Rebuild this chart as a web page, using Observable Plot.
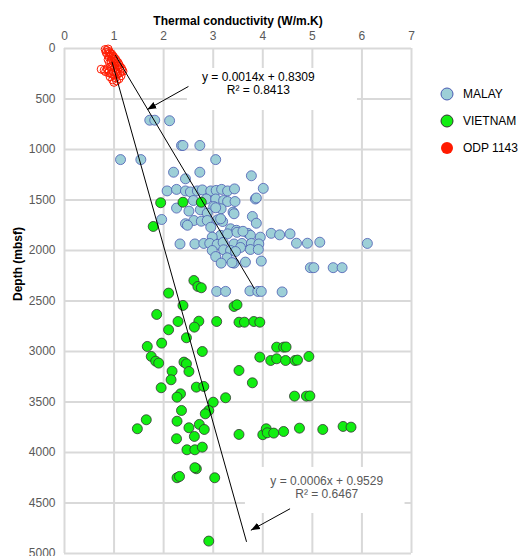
<!DOCTYPE html>
<html><head><meta charset="utf-8">
<script src="https://cdn.jsdelivr.net/npm/d3@7"></script>
<script src="https://cdn.jsdelivr.net/npm/@observablehq/plot@0.6"></script>
<style>body{margin:0;background:#fff}</style>
</head><body><div id="chart"></div>
<script>
const xTitle = "Thermal conductivity (W/m.K)";
const yTitle = "Depth (mbsf)";
const xTicks = [0, 1, 2, 3, 4, 5, 6, 7];
const yTicks = [0, 500, 1000, 1500, 2000, 2500, 3000, 3500, 4000, 4500, 5000];
const seriesNames = ["MALAY", "VIETNAM", "ODP 1143"];

// [thermal conductivity, depth]
const malay = [
  [1.72,710],[1.82,710],[2.12,715],
  [2.36,960],[2.39,960],[2.73,960],
  [1.13,1100],[1.54,1100],[3.05,1100],
  [2.20,1225],[2.73,1225],[2.44,1290],[3.77,1260],
  [2.07,1410],[2.26,1395],[2.44,1410],[2.54,1420],[2.68,1410],[2.78,1400],[2.95,1410],[3.06,1405],[3.17,1395],[3.29,1410],[3.43,1390],[4.01,1385],
  [2.60,1505],[2.86,1490],[3.05,1490],[3.21,1505],[3.29,1515],[3.44,1515],[3.85,1490],[3.87,1480],
  [2.26,1580],[2.51,1610],[2.74,1597],[3.01,1565],[3.16,1587],[3.40,1620],[3.42,1636],[3.05,1577],[2.88,1630],
  [1.96,1693],[2.44,1735],[2.61,1703],[2.76,1710],[2.88,1703],[3.09,1696],[3.19,1713],[3.79,1663],[3.87,1730],[3.15,1686],[2.48,1750],
  [2.95,1770],[3.35,1785],[3.47,1800],[3.15,1850],[3.29,1835],[3.70,1830],[3.75,1850],[4.17,1830],[4.34,1845],[4.55,1835],[2.98,1868],[3.48,1820],[3.95,1868],[3.60,1810],
  [2.33,1935],[2.63,1935],[2.81,1930],[2.93,1930],[3.08,1940],[3.42,1935],[3.58,1930],[3.77,1930],[3.92,1935],[4.68,1928],[4.90,1928],[5.15,1918],[6.11,1930],[3.20,1920],
  [2.98,2000],[3.21,1993],[3.35,2000],[3.55,1970],[3.75,1990],[3.91,1990],[3.45,2010],
  [3.05,2060],[3.28,2072],[3.16,2125],[3.42,2125],[3.65,2115],[3.97,2105],[3.38,2120],
  [4.96,2170],[5.03,2170],[5.42,2170],[5.60,2170],
  [3.07,2405],[3.25,2405],[3.74,2400],[3.90,2405],[3.97,2405],[4.39,2410]
];

const vietnam = [
  [1.94,1527],[2.39,1522],[2.76,1522],[1.79,1762],
  [2.61,2297],[2.69,2356],[2.76,2369],[2.10,2422],
  [2.39,2544],[3.42,2554],[3.48,2537],[1.86,2633],
  [2.29,2703],[2.71,2700],[3.07,2703],[3.52,2710],[3.63,2710],[3.82,2703],[3.94,2710],
  [2.10,2785],[2.62,2759],[2.46,2864],[1.96,2917],
  [1.67,2950],[4.28,2957],[4.42,2957],[4.47,2955],[2.78,3000],
  [1.75,3049],[3.94,3056],[4.93,3049],
  [1.84,3096],[1.90,3115],[2.41,3105],[2.46,3122],[4.16,3089],[4.28,3072],[4.46,3089],[4.65,3089],[4.70,3085],
  [2.51,3198],[3.52,3188],[2.17,3195],[2.15,3280],[3.79,3310],
  [1.95,3359],[2.66,3353],[2.81,3346],
  [2.34,3419],[2.27,3452],[3.25,3458],[4.64,3442],[4.88,3442],[4.95,3440],
  [3.00,3502],[2.36,3584],[2.91,3584],[2.84,3617],
  [1.65,3676],[2.27,3690],[1.47,3765],[2.51,3755],[2.72,3722],[2.82,3772],[2.62,3841],[2.26,3864],[2.47,3973],[2.63,3973],[2.78,3947],
  [3.52,3821],[4.00,3824],[4.07,3765],[4.09,3805],[4.22,3808],[4.42,3792],[4.74,3759],[5.21,3772],[5.62,3742],[5.78,3749],
  [2.27,4250],[2.32,4237],[2.66,4161],[2.63,4150],[3.03,4250],
  [2.91,4877]
];

const odp = [
  [0.82,10],[0.85,20],[0.88,5],[0.90,30],[0.84,40],[0.92,45],[0.95,55],[0.87,60],[0.93,70],[0.98,75],
  [0.90,85],[1.00,90],[0.96,100],[1.03,105],[0.88,110],[0.94,120],[1.05,125],[0.99,130],[1.08,140],[0.91,145],
  [1.02,150],[1.10,160],[0.97,165],[1.06,175],[1.12,180],[0.93,185],[1.01,190],[1.15,195],[1.08,205],[0.74,205],
  [0.80,215],[0.86,200],[0.90,225],[0.98,230],[1.04,235],[1.12,240],[0.95,250],[1.07,255],[1.00,265],[1.14,270],
  [0.92,280],[1.03,290],[1.10,300],[0.97,310],[1.05,320],[1.00,335],[0.89,240],[0.83,230],[1.16,215],[1.18,225]
];

// trend lines [conductivity, depth]
const trendUpper = [[1.03,69],[3.83,2376]];
const trendLower = [[0.96,135],[3.67,4881]];

// annotations
const eqLabels = [
  {x:3.91, y:284, text:"y = 0.0014x + 0.8309", c:"black"},
  {x:3.91, y:416, text:"R² = 0.8413", c:"black"},
  {x:5.29, y:4284, text:"y = 0.0006x + 0.9529", c:"#595959"},
  {x:5.29, y:4409, text:"R² = 0.6467", c:"#595959"}
];
const eqBoxes = [
  {x1:2.48, x2:5.91, y1:198, y2:614},
  {x1:3.65, x2:6.87, y1:4148, y2:4604}
];
const arrows = [
  {x1:2.50, y1:376, x2:1.67, y2:604},
  {x1:4.55, y1:4557, x2:3.76, y2:4770}
];

const colors = {
  malayFill:"#9dcfd7", malayStroke:"#4b5cb3",
  vietFill:"#11ee11", vietStroke:"#333333",
  odp:"#ff1a00", grid:"#d9d9d9"
};

const plot = Plot.plot({
  width: 522, height: 556,
  marginLeft: 64, marginRight: 111, marginTop: 48, marginBottom: 3,
  style: {fontFamily: "'Liberation Sans', Arial, sans-serif", fontSize: "12px", background: "#fff", overflow: "visible"},
  x: {domain: [0, 7]},
  y: {domain: [0, 5000], reverse: true},
  marks: [
    Plot.ruleX(xTicks, {x: d => d, stroke: colors.grid, strokeWidth: 2, strokeOpacity: 1}),
    Plot.ruleY(yTicks, {y: d => d, stroke: colors.grid, strokeWidth: 2, strokeOpacity: 1}),
    Plot.rect(eqBoxes, {x1: "x1", x2: "x2", y1: "y1", y2: "y2", fill: "white"}),
    Plot.axisX(xTicks, {anchor: "top", tickSize: 0, tickPadding: 9, label: null, color: "#595959", fontSize: 12, tickFormat: d => String(d)}),
    Plot.axisY(yTicks, {anchor: "left", tickSize: 0, tickPadding: 9, label: null, color: "#595959", fontSize: 12, tickFormat: d => String(d)}),
    Plot.text([xTitle], {frameAnchor: "top", dy: -32, text: d => d, fontWeight: "bold", fill: "black", fontSize: 12}),
    Plot.text([yTitle], {frameAnchor: "left", dx: -46, rotate: -90, text: d => d, fontWeight: "bold", fill: "black", fontSize: 12}),
    Plot.dot(malay, {x: d => d[0], y: d => d[1], r: 5, fill: colors.malayFill, stroke: colors.malayStroke, strokeWidth: 0.8}),
    Plot.dot(vietnam, {x: d => d[0], y: d => d[1], r: 5, fill: colors.vietFill, stroke: colors.vietStroke, strokeWidth: 0.8}),
    Plot.dot(odp, {x: d => d[0], y: d => d[1], r: 4, fill: "none", stroke: colors.odp, strokeWidth: 1}),
    Plot.line(trendUpper, {x: d => d[0], y: d => d[1], stroke: "black", strokeWidth: 1}),
    Plot.line(trendLower, {x: d => d[0], y: d => d[1], stroke: "black", strokeWidth: 1}),
    Plot.link(arrows, {x1: "x1", y1: "y1", x2: "x2", y2: "y2", stroke: "black", strokeWidth: 1, className: "arrowlink"}),
    Plot.text(eqLabels, {x: "x", y: "y", text: "text", fill: d => d.c, fontSize: 12})
  ]
});

document.getElementById("chart").appendChild(plot);

const svg = d3.select(plot);

// arrowheads
const defs = svg.append("defs");
defs.append("marker")
  .attr("id", "trihead").attr("viewBox", "-9 -4 10 8")
  .attr("refX", 0).attr("refY", 0)
  .attr("markerWidth", 10).attr("markerHeight", 8)
  .attr("markerUnits", "userSpaceOnUse").attr("orient", "auto")
  .append("path").attr("d", "M-9,-3.5L0,0L-9,3.5Z").attr("fill", "black");
svg.selectAll("g.arrowlink path, .arrowlink path").attr("marker-end", "url(#trihead)");

// legend
const legend = svg.append("g")
  .attr("font-family", "'Liberation Sans', Arial, sans-serif")
  .attr("font-size", 12)
  .attr("text-anchor", "start");
const legendStyles = [
  {fill: colors.malayFill, stroke: colors.malayStroke},
  {fill: colors.vietFill, stroke: colors.vietStroke},
  {fill: colors.odp, stroke: "none"}
];
seriesNames.forEach((name, i) => {
  const y = 94 + i * 27;
  legend.append("circle").attr("cx", 447).attr("cy", y).attr("r", 6)
    .attr("fill", legendStyles[i].fill).attr("stroke", legendStyles[i].stroke).attr("stroke-width", 1);
  legend.append("text").attr("x", 463).attr("y", y).attr("dy", "0.35em")
    .attr("text-anchor", "start").attr("fill", "black").text(name);
});
</script>
</body></html>
